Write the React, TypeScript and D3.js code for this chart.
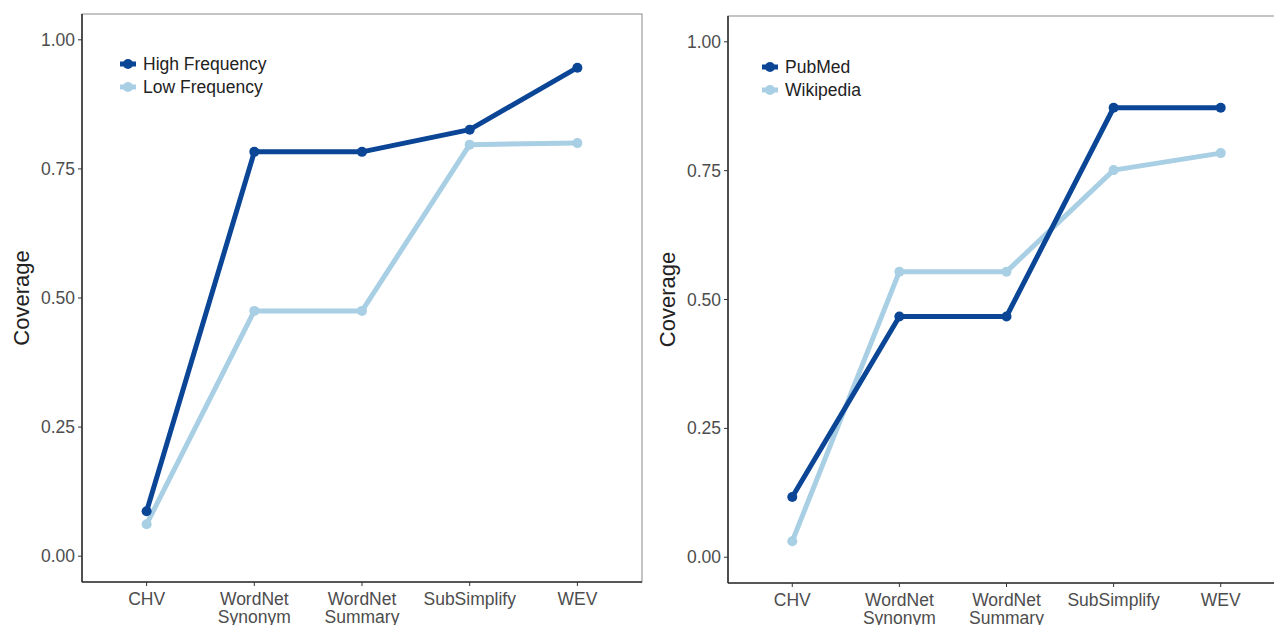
import React from "react";
import * as d3 from "d3";

const categories = ["CHV", "WordNet\nSynonym", "WordNet\nSummary", "SubSimplify", "WEV"];
const yTicks = [0, 0.25, 0.5, 0.75, 1.0];

const leftSeriesNames = ["High Frequency", "Low Frequency"];
const highFrequency = [0.087, 0.783, 0.783, 0.826, 0.946];
const lowFrequency = [0.062, 0.475, 0.475, 0.797, 0.8];

const rightSeriesNames = ["PubMed", "Wikipedia"];
const pubMed = [0.117, 0.467, 0.467, 0.872, 0.872];
const wikipedia = [0.031, 0.554, 0.554, 0.751, 0.784];

const DARK = "#0b4596";
const LIGHT = "#a8cfe4";
const FONT = "'Liberation Sans', Arial, Helvetica, sans-serif";

type PanelProps = {
  x0: number;
  x1: number;
  top: number;
  bottom: number;
  names: string[];
  series: number[][];
  legendX: number;
  legendY: number;
};

function Panel({ x0, x1, top, bottom, names, series, legendX, legendY }: PanelProps) {
  const x = d3.scalePoint<string>().domain(categories).range([x0, x1]).padding(0.6);
  const y = d3.scaleLinear().domain([-0.05, 1.05]).range([bottom, top]);
  const colors = [DARK, LIGHT];
  const line = d3
    .line<number>()
    .x((_, i) => x(categories[i]) as number)
    .y((d) => y(d));
  const fmt = d3.format(".2f");
  const order = [1, 0];
  const fs = 17.5;
  return (
    <g>
      <rect x={x0} y={top} width={x1 - x0} height={bottom - top} fill="white" stroke="#8a8a8a" strokeWidth={1} />
      <line x1={x0} x2={x0} y1={top} y2={bottom} stroke="#333" strokeWidth={1.6} />
      <line x1={x0} x2={x1} y1={bottom} y2={bottom} stroke="#333" strokeWidth={1.6} />
      {yTicks.map((t) => (
        <g key={t}>
          <line x1={x0 - 4} x2={x0} y1={y(t)} y2={y(t)} stroke="#333" strokeWidth={1} />
          <text x={x0 - 7} y={y(t)} dy="0.35em" textAnchor="end" fontSize={fs} fill="#4d4d4d" fontFamily={FONT}>
            {fmt(t)}
          </text>
        </g>
      ))}
      {categories.map((c) => {
        const lines = c.split("\n");
        return (
          <g key={c}>
            <line x1={x(c)} x2={x(c)} y1={bottom} y2={bottom + 4} stroke="#333" strokeWidth={1} />
            <text x={x(c)} y={bottom + 23} textAnchor="middle" fontSize={fs} fill="#4d4d4d" fontFamily={FONT}>
              {lines.map((l, i) => (
                <tspan key={i} x={x(c)} dy={i === 0 ? 0 : 18}>
                  {l}
                </tspan>
              ))}
            </text>
          </g>
        );
      })}
      <text
        transform={`translate(${x0 - 61},${(top + bottom) / 2}) rotate(-90)`}
        textAnchor="middle"
        dy="0.35em"
        fontSize={22}
        fill="#222"
        fontFamily={FONT}
      >
        Coverage
      </text>
      {order.map((si) => (
        <g key={si}>
          <path d={line(series[si]) || ""} fill="none" stroke={colors[si]} strokeWidth={5} strokeLinejoin="round" />
          {series[si].map((v, i) => (
            <circle key={i} cx={x(categories[i])} cy={y(v)} r={5} fill={colors[si]} />
          ))}
        </g>
      ))}
      {names.map((n, i) => {
        const ly = legendY + i * 23;
        return (
          <g key={n}>
            <line x1={legendX} x2={legendX + 16} y1={ly} y2={ly} stroke={colors[i]} strokeWidth={5} />
            <circle cx={legendX + 8} cy={ly} r={5} fill={colors[i]} />
            <text x={legendX + 23} y={ly} dy="0.35em" fontSize={fs} fill="#222" fontFamily={FONT}>
              {n}
            </text>
          </g>
        );
      })}
    </g>
  );
}

export default function App() {
  return (
    <svg
      width={1274}
      height={625}
      style={{ position: "absolute", left: 0, top: 0, background: "white" }}
    >
      <rect width={1274} height={625} fill="white" />
      <Panel
        x0={82}
        x1={642}
        top={14}
        bottom={582}
        names={leftSeriesNames}
        series={[highFrequency, lowFrequency]}
        legendX={120}
        legendY={64}
      />
      <Panel
        x0={728}
        x1={1285}
        top={16}
        bottom={583}
        names={rightSeriesNames}
        series={[pubMed, wikipedia]}
        legendX={762}
        legendY={67}
      />
    </svg>
  );
}
